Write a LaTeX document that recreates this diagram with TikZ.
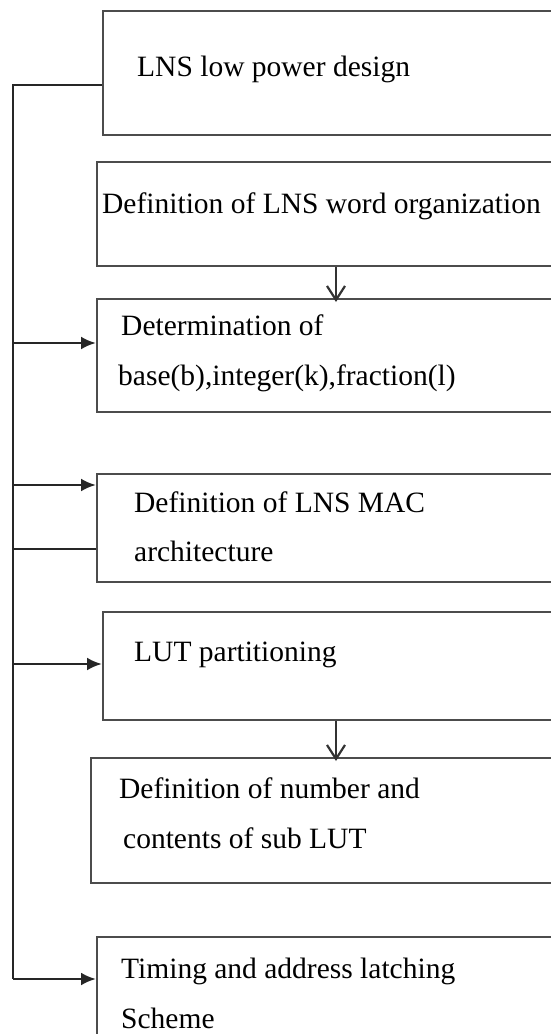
\documentclass[tikz,border=0pt]{standalone}
\usepackage{fontspec}
\setmainfont{Liberation Serif}
\usetikzlibrary{arrows.meta}
\tikzset{
  box/.style={draw=black!70, line width=2.2pt, anchor=north west, inner sep=0pt, minimum width=#1},
  box/.default=470pt,
  lbl/.style={anchor=base west, inner sep=0pt, font=\fontsize{29.5}{35}\selectfont},
  conn/.style={draw=black!85, line width=2.7pt},
  harr/.style={conn, -{Latex[length=15pt,width=13pt]}},
  varr/.style={draw=black!80, line width=2.2pt, -{Straight Barb[length=14pt,width=18pt,line width=2.2pt]}}
}
\begin{document}
\begin{tikzpicture}[x=1pt,y=-1pt]
\useasboundingbox (0,0) rectangle (551,1034);
\clip (0,0) rectangle (551,1034);
% boxes
\node[box, minimum height=124pt] (b1) at (102,10) {};
\node[box, minimum height=104pt] (b2) at (96,161) {};
\node[box, minimum height=113pt] (b3) at (96,298) {};
\node[box, minimum height=108pt] (b4) at (96,473) {};
\node[box, minimum height=108pt] (b5) at (102,611) {};
\node[box, minimum height=125pt] (b6) at (90,757) {};
\node[box, minimum height=130pt] (b7) at (96,936) {};
% texts
\node[lbl] (t1) at (137,76) {LNS low power design};
\node[lbl] (t2) at (102,213) {Definition of LNS word organization};
\node[lbl] (t3a) at (121,335) {Determination of};
\node[lbl] (t3b) at (118,385) {base(b),integer(k),fraction(l)};
\node[lbl] (t4a) at (134,512) {Definition of LNS MAC};
\node[lbl] (t4b) at (134,561) {architecture};
\node[lbl] (t5) at (134,661) {LUT partitioning};
\node[lbl] (t6a) at (119,798) {Definition of number and};
\node[lbl] (t6b) at (123,848) {contents of sub LUT};
\node[lbl] (t7a) at (121,978) {Timing and address latching};
\node[lbl] (t7b) at (121,1028) {Scheme};
% trunk coordinates
\coordinate (top) at (13,85);
\coordinate (bot) at (13,979);
\coordinate (y3) at (13,343);
\coordinate (y4) at (13,485);
\coordinate (y4b) at (13,549);
\coordinate (y5) at (13,664);
\coordinate (ax) at (336,0);
% connectors
\draw[conn] (b1.west |- top) -- (top) -- (bot);
\draw[harr] (bot) -- (b7.west |- bot);
\draw[harr] (y3) -- (b3.west |- y3);
\draw[harr] (y4) -- (b4.west |- y4);
\draw[conn] (y4b) -- (b4.west |- y4b);
\draw[harr] (y5) -- (b5.west |- y5);
\draw[varr] (b2.south -| ax) -- ([yshift=-4pt]b3.north -| ax);
\draw[varr] (b5.south -| ax) -- ([yshift=-4pt]b6.north -| ax);
\end{tikzpicture}
\end{document}
